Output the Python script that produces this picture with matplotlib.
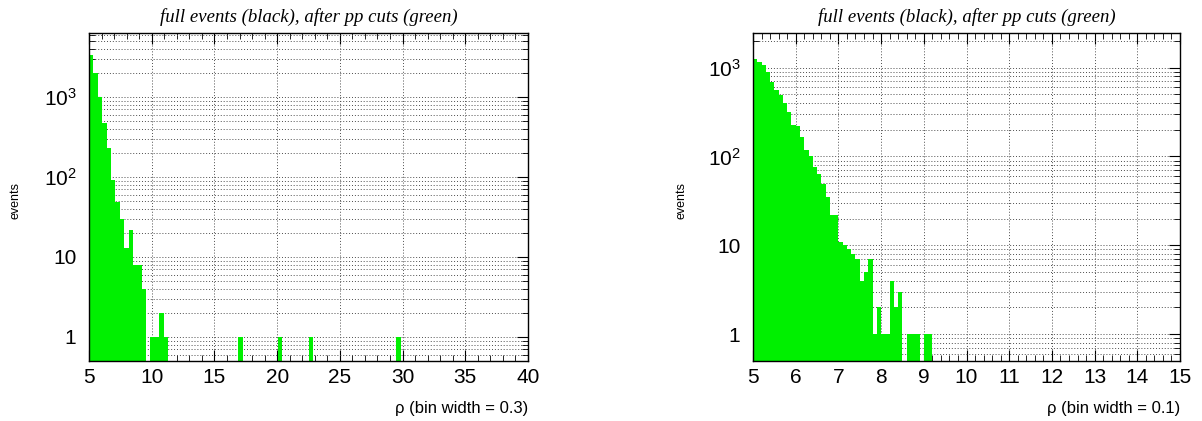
import numpy as np
import matplotlib
matplotlib.use('Agg')
import matplotlib.pyplot as plt
from matplotlib.ticker import FixedLocator, LogLocator, MultipleLocator, NullFormatter, FuncFormatter

plt.rcParams['font.family'] = ['Liberation Sans', 'DejaVu Sans']
plt.rcParams['mathtext.fontset'] = 'custom'
plt.rcParams['mathtext.rm'] = 'Liberation Sans'
plt.rcParams['mathtext.it'] = 'Liberation Sans:italic'

green = '#00f000'
title = 'full events (black), after pp cuts (green)'

# rho, 100 bins on [5, 40]
left_range = (5.0, 40.0)
left_nbins = 100
left_head = [3350, 1980, 1010, 473, 230, 92, 49, 30, 13, 22, 8, 8, 4, 0, 1, 1, 2, 1]
left_single = [34, 43, 50, 70]      # bins with a single event
left_ymax = 6300

# rho, 100 bins on [5, 15]
right_range = (5.0, 15.0)
right_nbins = 100
right_head = [1240, 1160, 1070, 900, 690, 560, 490, 395, 318, 224,
              218, 165, 117, 100, 76, 64, 49, 35, 22, 22,
              11, 10, 9, 8, 7, 4, 5, 7, 1, 2,
              1, 1, 4, 2, 3, 0, 1, 1, 1, 0,
              1, 1]
right_single = []
right_ymax = 2450


def fill(nbins, head, single):
    counts = np.zeros(nbins)
    counts[:len(head)] = head
    counts[single] = 1
    return counts


def ylab(v, pos):
    if v == 1:
        return '1'
    if v == 10:
        return '10'
    return r'$10^{%d}$' % int(round(np.log10(v)))


def hist(ax, rng, counts, ymax, xmajor, xminor, xlabel):
    edges = np.linspace(rng[0], rng[1], len(counts) + 1)
    ax.set_yscale('log')
    ax.bar(edges[:-1], counts, width=np.diff(edges), align='edge',
           color=green, linewidth=0)
    ax.set_xlim(rng)
    ax.set_ylim(0.5, ymax)

    ax.xaxis.set_major_locator(MultipleLocator(xmajor))
    ax.xaxis.set_minor_locator(MultipleLocator(xminor))
    ax.yaxis.set_major_locator(FixedLocator([1, 10, 100, 1000]))
    ax.yaxis.set_minor_locator(LogLocator(base=10, subs=np.arange(2, 10), numticks=20))
    ax.yaxis.set_major_formatter(FuncFormatter(ylab))
    ax.yaxis.set_minor_formatter(NullFormatter())

    ax.tick_params(which='both', direction='in', top=True, right=True, colors='k')
    ax.tick_params(which='major', length=8, width=0.8, labelsize=15)
    ax.tick_params(which='minor', length=4, width=0.6)
    ax.tick_params(axis='x', pad=5)
    ax.tick_params(axis='y', pad=9)

    ax.set_axisbelow(True)
    grid_style = dict(linestyle=(0, (1, 2)), color='0.3', linewidth=0.7)
    ax.yaxis.grid(True, which='both', **grid_style)
    ax.xaxis.grid(True, which='major', **grid_style)
    for s in ax.spines.values():
        s.set_linewidth(1.0)
        s.set_color('k')

    ax.text(0.5, 1.05, title, transform=ax.transAxes, ha='center', va='center',
            fontsize=13.5, family='Liberation Serif', style='italic')
    ax.text(1.0, -0.145, xlabel, transform=ax.transAxes, ha='right', va='center',
            fontsize=12)
    ax.text(-0.168, 0.49, 'events', transform=ax.transAxes, ha='center', va='center',
            rotation=90, fontsize=9)


fig = plt.figure(figsize=(12.02, 4.21), dpi=100)
ax1 = fig.add_axes([89 / 1202, 1 - 361 / 421, 439 / 1202, 328 / 421])
ax2 = fig.add_axes([753 / 1202, 1 - 361 / 421, 427 / 1202, 328 / 421])

hist(ax1, left_range, fill(left_nbins, left_head, left_single), left_ymax,
     5, 1, 'ρ (bin width = 0.3)')
hist(ax2, right_range, fill(right_nbins, right_head, right_single), right_ymax,
     1, 0.2, 'ρ (bin width = 0.1)')

fig.savefig('out.png', dpi=100)
